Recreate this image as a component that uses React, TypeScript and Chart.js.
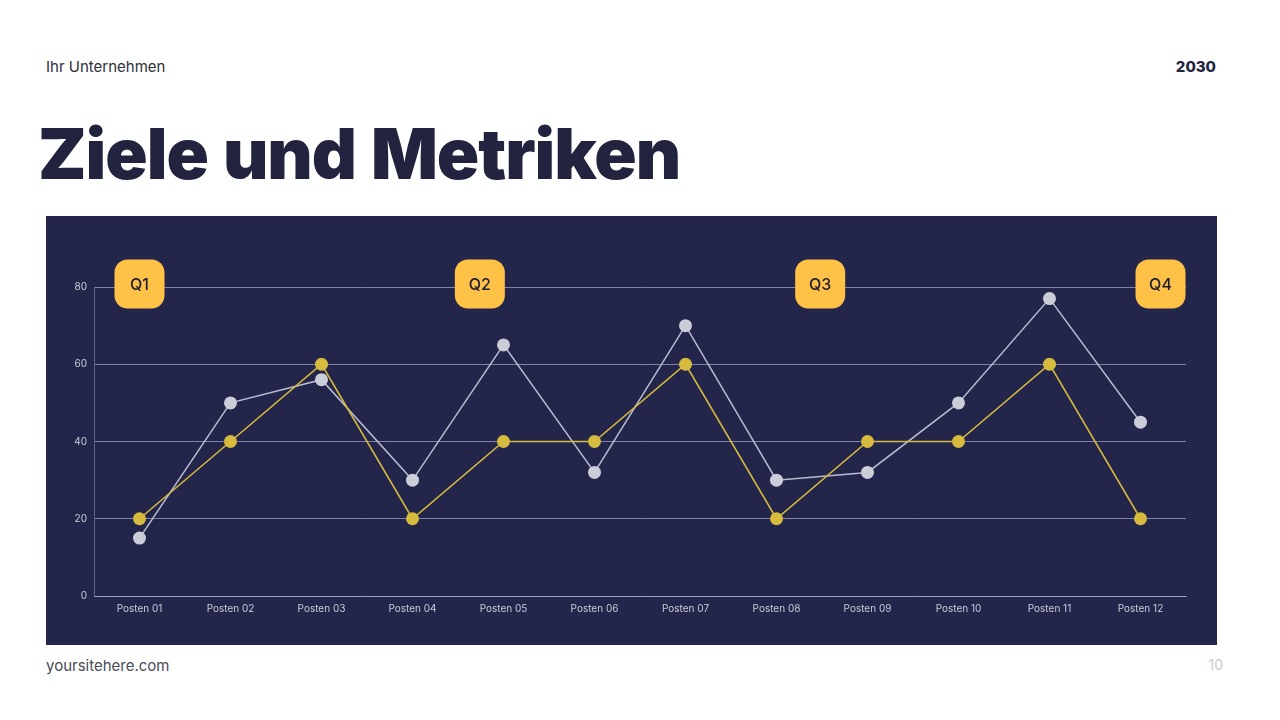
import React, { useEffect, useRef } from "react";
import { Chart, registerables } from "chart.js";

Chart.register(...registerables);

// chart values
const posten = [
  "Posten 01", "Posten 02", "Posten 03", "Posten 04", "Posten 05", "Posten 06",
  "Posten 07", "Posten 08", "Posten 09", "Posten 10", "Posten 11", "Posten 12",
];
const zielWerte = [20, 40, 60, 20, 40, 40, 60, 20, 40, 40, 60, 20];
const istWerte = [15, 50, 56, 30, 65, 32, 70, 30, 32, 50, 77, 45];
const yTicks = [0, 20, 40, 60, 80];
const quartale = ["Q1", "Q2", "Q3", "Q4"];
// where each quarter badge sits, in category index units
const quartalPos = [0, 3.74, 7.48, 11.22];
const quartalWert = 80;

const NAVY = "#23264a";
const GOLD = "#d6bb3e";
const GREY = "#cbcdd8";
const BADGE = "#ffc247";

const quarterBadges = {
  id: "quarterBadges",
  afterDatasetsDraw(chart: Chart) {
    const { ctx } = chart;
    const x = chart.scales.x;
    const y = chart.scales.y;
    const w = 50;
    const h = 49;
    ctx.save();
    quartale.forEach((q, i) => {
      const cx = x.getPixelForValue(quartalPos[i]);
      const cy = y.getPixelForValue(quartalWert) - 3;
      ctx.beginPath();
      ctx.roundRect(cx - w / 2, cy - h / 2, w, h, 13);
      ctx.fillStyle = BADGE;
      ctx.fill();
      ctx.fillStyle = "#1f2033";
      ctx.font = "500 16px Inter, 'Noto Sans', sans-serif";
      ctx.textAlign = "center";
      ctx.textBaseline = "middle";
      ctx.fillText(q, cx, cy + 1);
    });
    ctx.restore();
  },
};

const LineChart: React.FC = () => {
  const canvasRef = useRef<HTMLCanvasElement | null>(null);
  const chartRef = useRef<Chart | null>(null);

  useEffect(() => {
    if (!canvasRef.current) return;
    const ctx = canvasRef.current.getContext("2d");
    if (!ctx) return;
    if (chartRef.current) chartRef.current.destroy();

    chartRef.current = new Chart(ctx, {
      type: "line",
      data: {
        labels: posten,
        datasets: [
          {
            label: "Ziel",
            data: zielWerte,
            borderColor: GOLD,
            backgroundColor: GOLD,
            borderWidth: 1.5,
            pointRadius: 6.5,
            pointBorderWidth: 0,
            tension: 0,
          },
          {
            label: "Ist",
            data: istWerte,
            borderColor: "#b9bcd0",
            backgroundColor: GREY,
            pointBackgroundColor: GREY,
            borderWidth: 1.5,
            pointRadius: 6.5,
            pointBorderWidth: 0,
            tension: 0,
          },
        ],
      },
      options: {
        animation: false,
        responsive: true,
        maintainAspectRatio: false,
        layout: { padding: { top: 71, right: 31, bottom: 0, left: 0 } },
        plugins: {
          legend: { display: false },
          tooltip: { enabled: false },
        },
        scales: {
          x: {
            offset: true,
            grid: { display: false, drawTicks: false },
            border: { display: true, color: "rgba(190,195,225,0.55)", width: 1 },
            ticks: {
              color: "#c9cbd9",
              font: { family: "Inter, 'Noto Sans', sans-serif", size: 10 },
              padding: 7,
              maxRotation: 0,
            },
            afterFit: (scale) => {
              scale.height = 49;
            },
          },
          y: {
            min: 0,
            max: 80,
            afterBuildTicks: (scale) => {
              scale.ticks = yTicks.map((v) => ({ value: v }));
            },
            grid: { color: "rgba(190,195,225,0.6)", lineWidth: 1, drawTicks: false },
            border: { display: true, color: "rgba(190,195,225,0.4)", width: 1 },
            ticks: {
              color: "#c9cbd9",
              font: { family: "Inter, 'Noto Sans', sans-serif", size: 10 },
              padding: 7,
            },
            afterFit: (scale) => {
              scale.width = 48;
            },
          },
        },
      },
      plugins: [quarterBadges],
    });

    return () => {
      if (chartRef.current) {
        chartRef.current.destroy();
        chartRef.current = null;
      }
    };
  }, []);

  return <canvas ref={canvasRef} />;
};

const App: React.FC = () => {
  useEffect(() => {
    document.body.style.margin = "0";
  }, []);

  return (
    <div
      style={{
        position: "relative",
        width: 1280,
        height: 720,
        background: "#ffffff",
        fontFamily: "Inter, 'Noto Sans', sans-serif",
        overflow: "hidden",
      }}
    >
      <div style={{ position: "absolute", left: 46, top: 57, fontSize: 15, color: "#2e2f3d" }}>
        Ihr Unternehmen
      </div>
      <div
        style={{
          position: "absolute",
          right: 64,
          top: 57,
          fontSize: 15,
          fontWeight: 800,
          color: "#22243f",
        }}
      >
        2030
      </div>
      <div
        style={{
          position: "absolute",
          left: 38,
          top: 112,
          fontSize: 70,
          fontWeight: 900,
          letterSpacing: -1,
          wordSpacing: 2,
          lineHeight: "84px",
          color: "#22243f",
        }}
      >
        Ziele und Metriken
      </div>
      <div
        style={{
          position: "absolute",
          left: 46,
          top: 216,
          width: 1171,
          height: 429,
          background: NAVY,
        }}
      >
        <LineChart />
      </div>
      <div style={{ position: "absolute", left: 46, top: 656, fontSize: 15, color: "#4a4b57" }}>
        yoursitehere.com
      </div>
      <div style={{ position: "absolute", right: 57, top: 656, fontSize: 14, color: "#c8c8cc" }}>
        10
      </div>
    </div>
  );
};

export default App;
